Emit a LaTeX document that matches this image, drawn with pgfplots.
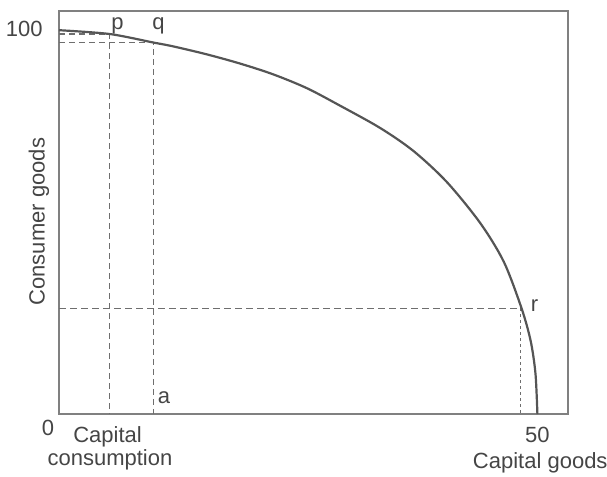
\documentclass[border=0pt]{standalone}
\usepackage{fontspec}
\setmainfont{Liberation Sans}
\usepackage{pgfplots}
\pgfplotsset{compat=1.18}
\usetikzlibrary{calc}
\definecolor{ink}{HTML}{454545}
\definecolor{curve}{HTML}{555555}
\definecolor{frame}{HTML}{808080}
\definecolor{guide}{HTML}{6E6E6E}

\begin{document}
\begin{tikzpicture}[lbl/.style={font=\fontsize{11}{13}\selectfont, text=ink, inner sep=0pt, anchor=base}]
\begin{axis}[
  name=ax,
  scale only axis, width=254.5pt, height=201.5pt,
  xmin=0, xmax=53.2, ymin=0, ymax=105,
  ticks=none, clip=false,
  axis line style={draw=frame, line width=0.75pt},
]
% guide lines
\addplot[guide, line width=0.55pt, dash pattern=on 3pt off 2pt]
  coordinates {(0,99.0) (5.3,99.0) (5.3,0)};
\addplot[guide, line width=0.55pt, dash pattern=on 3pt off 2pt]
  coordinates {(0,96.7) (9.83,96.7) (9.83,0)};
\addplot[guide, line width=0.55pt, dash pattern=on 3.5pt off 2pt]
  coordinates {(0,27.5) (48.35,27.5)};
\addplot[guide, line width=0.55pt, dash pattern=on 1.5pt off 1.5pt]
  coordinates {(48.2,27.5) (48.2,0)};
% production possibility curve
\addplot[curve, line width=1.1pt, smooth, tension=0.5] coordinates {
  (0,100) (5.3,99.0) (9.83,96.8) (11.9,95.8) (15.45,93.7) (18.93,91.3)
  (22.38,88.5) (25.9,84.9) (29.4,80.3) (33.58,74.5) (37.06,68.5)
  (40.55,60.4) (44.04,49.7) (46.5,39.6) (48.35,27.5) (49.3,19.0)
  (49.8,10.5) (50,0)};

\node[lbl, anchor=base east] at (axis cs:-1.67,98.4) {100};
\node[lbl] at (axis cs:-1.15,-5.47) {0};
\node[lbl] at (axis cs:50,-7.55) {50};
\node[lbl] at (axis cs:5.07,-7.55) {Capital};
\node[lbl] at (axis cs:5.33,-13.54) {consumption};
\node[lbl] at (axis cs:50.3,-14.3) {Capital goods};
\node[lbl] at (axis cs:6.12,100.26) {p};
\node[lbl] at (axis cs:10.4,100.26) {q};
\node[lbl] at (axis cs:49.7,26.8) {r};
\node[lbl] at (axis cs:10.98,2.86) {a};
\node[lbl, rotate=90] at (axis cs:-1.5,50.1) {Consumer goods};
\end{axis}
\pgfresetboundingbox
\path[use as bounding box] ($(ax.south west)+(-29.5pt,-31pt)$) rectangle ($(ax.north east)+(19.5pt,5.5pt)$);
\end{tikzpicture}
\end{document}
